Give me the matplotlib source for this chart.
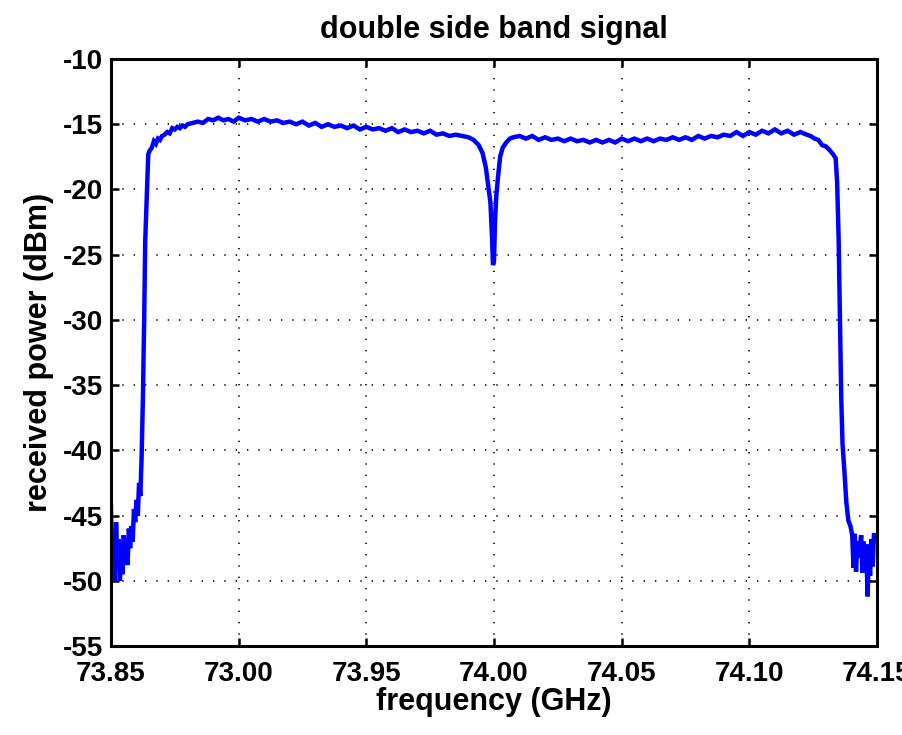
import numpy as np
import matplotlib
matplotlib.use('Agg')
import matplotlib.pyplot as plt

plt.rcParams['font.family'] = ['Liberation Sans', 'DejaVu Sans']
plt.rcParams['font.weight'] = 'bold'
plt.rcParams['axes.unicode_minus'] = False

# spectrum (GHz, dBm)
freq = [
    73.8500, 73.8505, 73.8510, 73.8515, 73.8520, 73.8525, 73.8530, 73.8535, 73.8540, 73.8545,
    73.8550, 73.8555, 73.8560, 73.8565, 73.8570, 73.8575, 73.8580, 73.8585, 73.8590, 73.8595,
    73.8600, 73.8605, 73.8610, 73.8615, 73.8620, 73.8625, 73.8630, 73.8634, 73.8638, 73.8642,
    73.8646, 73.8652, 73.8660, 73.8668, 73.8676, 73.8684, 73.8692, 73.8700, 73.8710, 73.8720,
    73.8730, 73.8740, 73.8750, 73.8760, 73.8770, 73.8780, 73.8790, 73.8800, 73.8820, 73.8840,
    73.8860, 73.8880, 73.8900, 73.8920, 73.8940, 73.8960, 73.8980, 73.9000, 73.9025, 73.9050,
    73.9075, 73.9100, 73.9125, 73.9150, 73.9175, 73.9200, 73.9225, 73.9250, 73.9275, 73.9300,
    73.9325, 73.9350, 73.9375, 73.9400, 73.9425, 73.9450, 73.9475, 73.9500, 73.9525, 73.9550,
    73.9575, 73.9600, 73.9625, 73.9650, 73.9675, 73.9700, 73.9725, 73.9750, 73.9775, 73.9800,
    73.9825, 73.9850, 73.9875, 73.9900, 73.9920, 73.9940, 73.9955, 73.9968, 73.9978, 73.9986,
    73.9992, 73.9996, 74.0000, 74.0004, 74.0009, 74.0016, 74.0024, 74.0034, 74.0048, 74.0062,
    74.0075, 74.0100, 74.0125, 74.0150, 74.0175, 74.0200, 74.0225, 74.0250, 74.0275, 74.0300,
    74.0325, 74.0350, 74.0375, 74.0400, 74.0425, 74.0450, 74.0475, 74.0500, 74.0525, 74.0550,
    74.0575, 74.0600, 74.0625, 74.0650, 74.0675, 74.0700, 74.0725, 74.0750, 74.0775, 74.0800,
    74.0825, 74.0850, 74.0875, 74.0900, 74.0925, 74.0950, 74.0975, 74.1000, 74.1025, 74.1050,
    74.1075, 74.1100, 74.1125, 74.1150, 74.1175, 74.1200, 74.1225, 74.1240, 74.1255, 74.1270,
    74.1285, 74.1300, 74.1315, 74.1328, 74.1338, 74.1344, 74.1350, 74.1355, 74.1360, 74.1365,
    74.1372, 74.1380, 74.1388, 74.1396, 74.1403, 74.1408, 74.1413, 74.1418, 74.1423, 74.1428,
    74.1433, 74.1438, 74.1443, 74.1448, 74.1453, 74.1458, 74.1463, 74.1468, 74.1473, 74.1478,
    74.1483, 74.1488,
]
power = [
    -44.3, -49.8, -46.5, -50.0, -45.5, -48.5, -46.8, -50.0, -47.0, -49.5,
    -46.5, -48.0, -47.3, -48.8, -46.0, -47.5, -45.8, -47.0, -44.5, -45.5,
    -43.8, -45.0, -42.5, -43.5, -40.5, -36.0, -30.0, -24.0, -21.8, -19.5,
    -17.3, -17.0, -16.8, -16.3, -16.5, -16.1, -16.2, -15.9, -15.8, -15.6,
    -15.7, -15.3, -15.4, -15.2, -15.3, -15.1, -15.2, -15.0, -14.9, -14.8,
    -14.9, -14.6, -14.7, -14.5, -14.7, -14.6, -14.8, -14.5, -14.7, -14.6,
    -14.8, -14.6, -14.8, -14.7, -14.9, -14.8, -15.0, -14.8, -15.1, -14.9,
    -15.2, -15.0, -15.2, -15.1, -15.3, -15.1, -15.4, -15.2, -15.4, -15.3,
    -15.5, -15.3, -15.6, -15.4, -15.6, -15.5, -15.7, -15.5, -15.8, -15.7,
    -15.9, -15.8, -15.9, -16.0, -16.2, -16.6, -17.2, -18.3, -19.8, -21.0,
    -23.5, -25.8, -25.5, -22.5, -20.5, -19.0, -17.5, -16.8, -16.4, -16.1,
    -16.0, -15.9, -16.1, -15.9, -16.2, -16.0, -16.2, -16.1, -16.3, -16.1,
    -16.3, -16.2, -16.4, -16.2, -16.4, -16.2, -16.4, -16.1, -16.3, -16.1,
    -16.3, -16.1, -16.3, -16.1, -16.2, -16.0, -16.2, -16.0, -16.2, -15.9,
    -16.1, -15.9, -16.0, -15.8, -15.9, -15.6, -15.9, -15.6, -15.8, -15.5,
    -15.7, -15.4, -15.7, -15.5, -15.8, -15.6, -15.8, -15.9, -16.1, -16.2,
    -16.6, -16.7, -17.0, -17.3, -17.6, -19.5, -24.0, -30.0, -36.0, -39.5,
    -41.5, -44.0, -45.4, -45.8, -46.5, -49.0, -46.4, -49.3, -47.0, -48.2,
    -47.4, -46.5, -49.4, -47.0, -49.0, -47.2, -51.2, -48.0, -49.6, -46.8,
    -48.9, -46.5,
]

xticks = [73.85, 73.90, 73.95, 74.00, 74.05, 74.10, 74.15]
xticklabels = ['73.85', '73.00', '73.95', '74.00', '74.05', '74.10', '74.15']
yticks = [-10, -15, -20, -25, -30, -35, -40, -45, -50, -55]

fig = plt.figure(figsize=(9.03, 7.35), dpi=100)
ax = fig.add_axes([0.1229, 0.1211, 0.8483, 0.7986])

ax.plot(freq, power, color='#0000ff', linewidth=3.2, solid_joinstyle='miter')

ax.set_xlim(73.85, 74.15)
ax.set_ylim(-55, -10)
ax.set_xticks(xticks)
ax.set_xticklabels(xticklabels)
ax.set_yticks(yticks)

ax.grid(True, color='black', linestyle=(0, (0.8, 6.0)), linewidth=1.2)
ax.tick_params(direction='in', length=6, width=1.8, top=True, right=True,
               labelsize=20, pad=6)
ax.tick_params(axis='x', pad=11)
for lab in ax.get_xticklabels() + ax.get_yticklabels():
    lab.set_fontweight('bold')
for s in ax.spines.values():
    s.set_linewidth(2.2)

ax.set_title('double side band signal', fontsize=22, fontweight='bold', pad=15)
ax.set_xlabel('frequency (GHz)', fontsize=22, fontweight='bold', labelpad=0)
ax.set_ylabel('received power (dBm)', fontsize=22, fontweight='bold', labelpad=6)

fig.savefig('out.png', dpi=100)
